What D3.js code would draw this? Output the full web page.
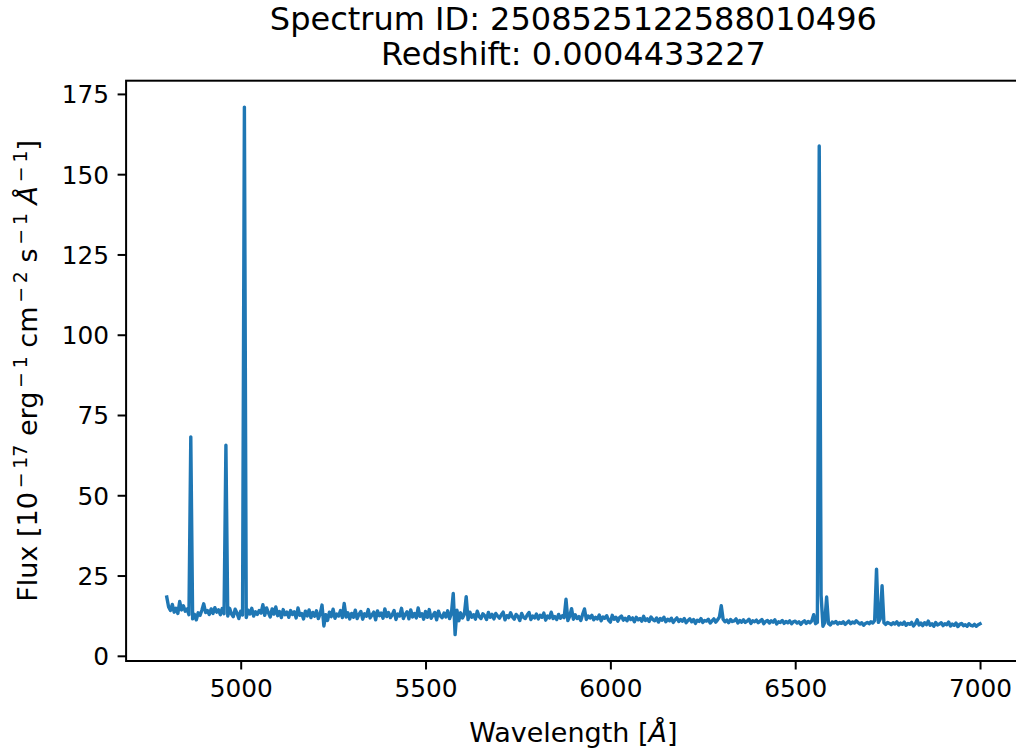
<!DOCTYPE html>
<html>
<head>
<meta charset="utf-8">
<script src="https://cdn.jsdelivr.net/npm/d3@7"></script>
<style>
	body { margin: 0; background: #fff; }
	svg { display: block; font-family: "DejaVu Sans", sans-serif; }
</style>
</head>
<body>
<div id="chart"></div>
<script>
// spectrum header
const titleLines = ["Spectrum ID: 2508525122588010496", "Redshift: 0.0004433227"];

// wavelength grid of the flux samples (Angstrom)
const waveStart = 4800;
const waveStep = 5;

// flux, 10^-17 erg/s/cm2/A, one row per 100 A
const flux = [
	18.3, 15.2, 14.1, 16.0, 13.6, 14.8, 13.2, 16.9, 14.3, 15.6, 13.9, 14.6, 12.8, 68.2, 11.5, 12.9, 11.2, 13.4, 12.6, 14.2,
	16.2, 13.5, 14.1, 12.9, 14.6, 13.2, 15.0, 13.6, 14.3, 12.8, 14.7, 13.1, 65.6, 12.4, 14.8, 13.0, 12.2, 14.5, 13.3, 11.6,
	13.9, 12.7, 170.9, 11.9, 14.2, 13.0, 14.8, 12.4, 13.7, 12.9, 14.1, 13.3, 15.9, 12.6, 14.9, 13.4, 12.1, 14.6, 13.0, 15.2,
	12.5, 13.8, 11.9, 14.4, 12.8, 13.6, 12.0, 14.1, 12.9, 13.7, 11.8, 14.9, 12.6, 13.2, 11.5, 13.9, 12.4, 14.3, 11.9, 13.5,
	12.3, 14.0, 11.6, 13.1, 15.8, 9.3, 12.8, 11.0, 13.6, 12.2, 14.5, 11.7, 13.0, 12.4, 14.1, 11.9, 16.3, 12.1, 13.4, 11.5,
	13.2, 12.0, 14.2, 11.6, 12.9, 13.8, 11.4, 13.1, 12.3, 14.4, 11.8, 12.7, 13.6, 11.2, 14.0, 12.5, 13.3, 11.7, 14.6, 12.2,
	13.5, 11.9, 12.8, 14.1, 11.3, 13.0, 12.4, 14.8, 11.6, 12.9, 13.7, 11.5, 14.3, 12.1, 13.2, 11.8, 14.9, 12.3, 13.1, 11.4,
	13.8, 12.0, 14.4, 11.7, 12.6, 13.5, 11.2, 13.9, 12.4, 11.9, 13.3, 12.1, 14.0, 11.6, 13.2, 19.4, 6.6, 14.2, 10.9, 13.4,
	11.8, 12.9, 18.4, 11.3, 13.6, 12.0, 12.8, 11.4, 13.9, 12.2, 11.6, 13.1, 12.5, 11.3, 13.5, 12.0, 12.9, 11.5, 13.2, 12.4,
	11.7, 12.8, 13.6, 11.2, 12.5, 11.9, 13.4, 12.1, 11.4, 12.9, 12.3, 11.0, 13.2, 12.0, 11.6, 12.7, 13.5, 11.3, 12.4, 11.8,
	13.0, 11.5, 12.6, 12.0, 13.3, 11.1, 12.4, 11.8, 13.6, 11.6, 12.2, 11.3, 12.9, 11.7, 12.5, 11.9, 17.6, 11.0, 12.3, 14.7,
	11.4, 12.8, 11.6, 12.2, 11.0, 12.9, 14.6, 11.3, 12.4, 11.8, 12.6, 11.2, 12.0, 11.5, 12.7, 10.9, 12.1, 11.7, 12.5, 11.1,
	10.5, 12.6, 11.4, 12.0, 10.8, 11.9, 12.4, 11.1, 11.7, 10.9, 12.2, 11.3, 11.8, 10.6, 12.0, 11.2, 11.6, 10.8, 12.3, 11.0,
	11.5, 10.7, 12.1, 11.3, 10.9, 11.8, 10.5, 11.6, 11.1, 12.0, 10.6, 11.4, 10.9, 11.7, 10.4, 11.2, 11.8, 10.7, 11.3, 10.8,
	11.6, 10.3, 11.0, 11.5, 10.6, 11.3, 10.1, 11.1, 10.7, 11.6, 10.4, 11.0, 10.8, 11.4, 10.2, 10.9, 11.5, 10.5, 11.2, 12.1,
	15.6, 11.4, 10.6, 11.1, 10.3, 11.3, 10.7, 10.9, 11.5, 10.2, 11.0, 10.5, 11.2, 10.4, 10.8, 11.4, 10.1, 10.9, 10.6, 11.1,
	10.3, 10.8, 11.3, 10.0, 10.7, 11.0, 10.2, 10.9, 10.5, 11.2, 9.9, 10.6, 10.4, 11.0, 10.1, 10.7, 10.3, 10.9, 10.0, 10.6,
	10.8, 10.2, 10.6, 9.8, 10.5, 10.9, 10.1, 10.7, 10.3, 10.9, 12.8, 10.0, 10.4, 158.8, 19.0, 9.2, 10.4, 18.3, 10.1, 9.6,
	10.5, 10.2, 10.7, 9.9, 10.4, 10.1, 10.6, 9.8, 10.3, 10.8, 10.0, 10.5, 10.2, 10.9, 10.4, 9.9, 10.3, 9.5, 10.1, 10.4,
	10.0, 10.6, 10.2, 11.0, 27.0, 10.4, 11.5, 21.8, 10.3, 9.8, 10.4, 10.1, 9.7, 10.3, 9.9, 10.6, 9.6, 10.2, 9.8, 10.5,
	9.5, 10.1, 9.8, 10.4, 9.3, 10.0, 11.2, 9.6, 10.2, 9.4, 10.3, 9.7, 10.8, 9.5, 10.0, 9.2, 10.4, 9.6, 9.9, 10.3,
	9.4, 10.0, 9.7, 10.5, 9.3, 9.9, 9.5, 10.2, 9.1, 9.8, 10.1, 9.4, 9.7, 9.2, 10.0, 9.5, 9.3, 9.8, 9.2, 9.7,
	10.0
];

const xTicks = [5000, 5500, 6000, 6500, 7000];
const yTicks = [0, 25, 50, 75, 100, 125, 150, 175];

const width = 1016, height = 748;
// axes box in pixels (right edge falls just outside the picture)
const box = { left: 126.1, right: 1020.7, top: 80.7, bottom: 661 };

const data = flux.map((f, i) => ({ wave: waveStart + i * waveStep, flux: f }));

/* matplotlib style 5% margins around the data */
function padded(ext) {
	const m = (ext[1] - ext[0]) * 0.05;
	return [ext[0] - m, ext[1] + m];
}

const x = d3.scaleLinear()
	.domain(padded(d3.extent(data, d => d.wave)))
	.range([box.left, box.right]);

const y = d3.scaleLinear()
	.domain(padded(d3.extent(data, d => d.flux)))
	.range([box.bottom, box.top]);

const svg = d3.select("#chart")
	.append("svg")
	.attr("width", width)
	.attr("height", height);

svg.append("defs").append("clipPath")
	.attr("id", "plotArea")
	.append("rect")
	.attr("x", box.left)
	.attr("y", box.top)
	.attr("width", box.right - box.left)
	.attr("height", box.bottom - box.top);

/* spectrum line */
const line = d3.line()
	.x(d => x(d.wave))
	.y(d => y(d.flux));

svg.append("path")
	.datum(data)
	.attr("clip-path", "url(#plotArea)")
	.attr("fill", "none")
	.attr("stroke", "#1f77b4")
	.attr("stroke-width", 3.4)
	.attr("stroke-linejoin", "round")
	.attr("stroke-linecap", "square")
	.attr("d", line);

/* axes */
const tickFont = 24.8;
const labelFont = 27;

const xAxis = svg.append("g")
	.attr("transform", `translate(0,${box.bottom})`)
	.call(d3.axisBottom(x).tickValues(xTicks).tickSize(8.5).tickPadding(8.5).tickFormat(d3.format("d")));

const yAxis = svg.append("g")
	.attr("transform", `translate(${box.left},0)`)
	.call(d3.axisLeft(y).tickValues(yTicks).tickSize(8.5).tickPadding(8.5).tickFormat(d3.format("d")));

[xAxis, yAxis].forEach(g => {
	g.select(".domain").remove();
	g.selectAll(".tick line").attr("stroke", "#000").attr("stroke-width", 2);
	g.selectAll(".tick text")
		.attr("fill", "#000")
		.attr("font-family", "DejaVu Sans")
		.attr("font-size", tickFont);
});
xAxis.selectAll(".tick text").attr("dy", "0.76em");
yAxis.selectAll(".tick text").attr("dy", "0.36em");

/* frame */
svg.append("rect")
	.attr("x", box.left)
	.attr("y", box.top)
	.attr("width", box.right - box.left)
	.attr("height", box.bottom - box.top)
	.attr("fill", "none")
	.attr("stroke", "#000")
	.attr("stroke-width", 2);

/* x label */
const xLabel = svg.append("text")
	.attr("x", (box.left + box.right) / 2)
	.attr("y", 742)
	.attr("text-anchor", "middle")
	.attr("font-size", labelFont)
	.attr("fill", "#000");
xLabel.append("tspan").text("Wavelength [");
xLabel.append("tspan").attr("font-style", "italic").text("Å");
xLabel.append("tspan").text("]");

/* y label with superscripts: base text and raised parts alternate */
const yParts = [
	["Flux [10", false], ["\u2009\u2212\u200917", true],
	[" erg", false], ["\u2009\u2212\u20091", true],
	[" cm", false], ["\u2009\u2212\u20092", true],
	[" s", false], ["\u2009\u2212\u20091", true],
	[" Å", false], ["\u2009\u2212\u20091", true],
	["]", false]
];
const supRise = 10;

const yLabel = svg.append("text")
	.attr("transform", `translate(37,${(box.top + box.bottom) / 2}) rotate(-90)`)
	.attr("text-anchor", "middle")
	.attr("font-size", labelFont)
	.attr("fill", "#000");

yParts.forEach(([t, sup], i) => {
	const span = yLabel.append("tspan").text(t);
	if (sup) {
		span.attr("dy", -supRise).attr("font-size", labelFont * 0.7);
	} else if (i > 0) {
		span.attr("dy", supRise);
	}
	if (t === " Å") span.attr("font-style", "italic");
});

/* title */
svg.append("g")
	.selectAll("text")
	.data(titleLines)
	.join("text")
	.attr("x", (box.left + box.right) / 2)
	.attr("y", (d, i) => 30 + i * 35)
	.attr("text-anchor", "middle")
	.attr("font-size", 32)
	.attr("fill", "#000")
	.text(d => d);
</script>
</body>
</html>
